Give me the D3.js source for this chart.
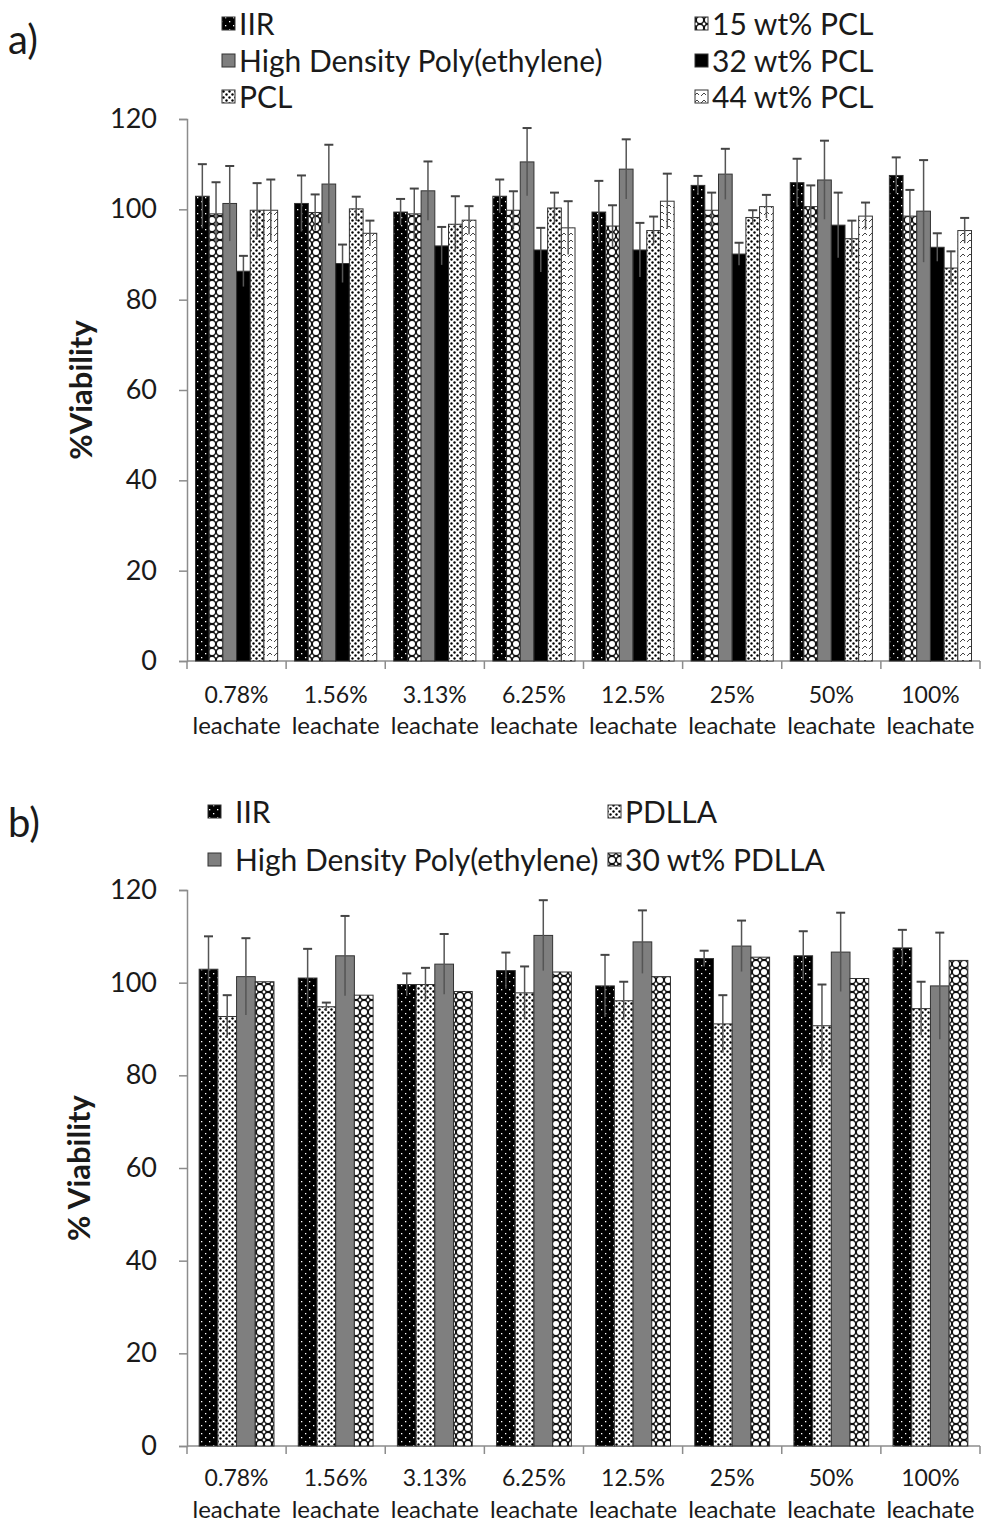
<!DOCTYPE html>
<html>
<head>
<meta charset="utf-8">
<script src="https://cdnjs.cloudflare.com/ajax/libs/d3/7.8.5/d3.min.js"></script>
<style>
  body { margin: 0; background: #fff; }
  svg text { font-family: Lato, "Open Sans", sans-serif; fill: #1a1a1a; }
</style>
</head>
<body>
<div id="chart"></div>
<script>
// categories (shared by both panels)
var groups = ["0.78%", "1.56%", "3.13%", "6.25%", "12.5%", "25%", "50%", "100%"];
var y_ticks = [0, 20, 40, 60, 80, 100, 120];

// panel a, series in bar order
var a_series = ["IIR", "15 wt% PCL", "High Density Poly(ethylene)", "32 wt% PCL", "PCL", "44 wt% PCL"];
var a_fill = ["iir", "xhatch", "hdpe", "black", "dots", "wave"];
var a_iir   = [102.9, 101.3, 99.4, 102.9, 99.4, 105.3, 105.9, 107.5];
var a_pcl15 = [99.0, 99.3, 99.0, 99.8, 96.3, 99.8, 100.6, 98.5];
var a_hdpe  = [101.3, 105.6, 104.1, 110.5, 108.9, 107.8, 106.5, 99.6];
var a_pcl32 = [86.3, 88.0, 91.9, 91.0, 91.0, 90.1, 96.5, 91.6];
var a_pcl   = [99.8, 100.1, 96.7, 100.3, 95.3, 98.2, 93.5, 87.0];
var a_pcl44 = [99.8, 94.7, 97.6, 95.9, 101.8, 100.6, 98.5, 95.3];
var a_iir_err   = [7.1, 6.2, 2.9, 3.7, 6.9, 2.1, 5.3, 4.0];
var a_pcl15_err = [7.0, 4.0, 5.6, 4.2, 4.6, 3.9, 4.7, 5.8];
var a_hdpe_err  = [8.3, 8.7, 6.5, 7.5, 6.6, 5.6, 8.7, 11.3];
var a_pcl32_err = [3.4, 4.2, 4.2, 4.9, 6.0, 2.5, 7.2, 3.1];
var a_pcl_err   = [6.0, 2.7, 6.2, 3.4, 3.1, 1.6, 4.0, 3.7];
var a_pcl44_err = [6.8, 2.8, 3.1, 5.9, 6.1, 2.6, 3.0, 2.8];

// panel b, series in bar order
var b_series = ["IIR", "PDLLA", "High Density Poly(ethylene)", "30 wt% PDLLA"];
var b_fill = ["iir", "dots", "hdpe", "xhatch"];
var b_iir    = [102.9, 101.0, 99.6, 102.6, 99.3, 105.2, 105.8, 107.5];
var b_pdlla  = [92.7, 94.8, 99.6, 97.8, 96.1, 91.1, 90.7, 94.4];
var b_hdpe   = [101.3, 105.8, 104.0, 110.2, 108.8, 107.9, 106.6, 99.3];
var b_pdlla30 = [100.2, 97.3, 98.1, 102.3, 101.3, 105.5, 100.9, 104.8];
var b_iir_err   = [7.1, 6.3, 2.4, 3.9, 6.7, 1.7, 5.3, 3.9];
var b_pdlla_err = [4.6, 0.9, 3.6, 5.7, 4.1, 6.2, 8.9, 5.8];
var b_hdpe_err  = [8.3, 8.6, 6.5, 7.6, 6.8, 5.5, 8.5, 11.5];
var b_pdlla30_err = [0, 0, 0, 0, 0, 0, 0, 0];

var svg = d3.select("#chart").append("svg")
    .attr("width", 985)
    .attr("height", 1523);

var defs = svg.append("defs");

// fill patterns, excel style
function make_patterns() {
    var p = defs.append("pattern").attr("id", "iir").attr("patternUnits", "userSpaceOnUse")
        .attr("width", 8).attr("height", 8);
    p.append("rect").attr("width", 8).attr("height", 8).attr("fill", "#000");
    p.append("rect").attr("x", 1).attr("y", 1).attr("width", 1.3).attr("height", 1.3).attr("fill", "#fff");
    p.append("rect").attr("x", 5).attr("y", 5).attr("width", 1.3).attr("height", 1.3).attr("fill", "#fff");

    p = defs.append("pattern").attr("id", "xhatch").attr("patternUnits", "userSpaceOnUse")
        .attr("width", 8).attr("height", 8);
    p.append("rect").attr("width", 8).attr("height", 8).attr("fill", "#111");
    p.append("circle").attr("cx", 4).attr("cy", 4).attr("r", 3).attr("fill", "#fff");
    p.append("circle").attr("cx", 0).attr("cy", 0).attr("r", 1.4).attr("fill", "#fff");
    p.append("circle").attr("cx", 8).attr("cy", 0).attr("r", 1.4).attr("fill", "#fff");
    p.append("circle").attr("cx", 0).attr("cy", 8).attr("r", 1.4).attr("fill", "#fff");
    p.append("circle").attr("cx", 8).attr("cy", 8).attr("r", 1.4).attr("fill", "#fff");

    p = defs.append("pattern").attr("id", "dots").attr("patternUnits", "userSpaceOnUse")
        .attr("width", 6).attr("height", 6);
    p.append("rect").attr("width", 6).attr("height", 6).attr("fill", "#fff");
    p.append("circle").attr("cx", 1.5).attr("cy", 1.5).attr("r", 1.2).attr("fill", "#000");
    p.append("circle").attr("cx", 4.5).attr("cy", 4.5).attr("r", 1.2).attr("fill", "#000");

    p = defs.append("pattern").attr("id", "wave").attr("patternUnits", "userSpaceOnUse")
        .attr("width", 7).attr("height", 7);
    p.append("rect").attr("width", 7).attr("height", 7).attr("fill", "#fff");
    p.append("path").attr("d", "M1,5 L4,2 L6,4").attr("stroke", "#444").attr("stroke-width", 1).attr("fill", "none");
}
make_patterns();

function fill_of(k) {
    if (k == "hdpe") return "#7f7f7f";
    if (k == "black") return "#000";
    return "url(#" + k + ")";
}

function draw_panel(opt) {
    var y = d3.scaleLinear().domain([0, 120]).range([opt.bottom, opt.top]);
    var x = d3.scaleBand().domain(groups).range([opt.left, opt.right]).padding(0);
    var xs = d3.scaleBand().domain(d3.range(opt.series.length))
        .range([0, x.bandwidth()]).paddingInner(0).paddingOuter(opt.gap);

    var g = svg.append("g");

    // y axis
    var yAxis = d3.axisLeft(y).tickValues(y_ticks).tickSize(8).tickPadding(22);
    var ya = g.append("g").attr("transform", "translate(" + opt.left + ",0)").call(yAxis);
    ya.select(".domain").attr("stroke", "#8c8c8c").attr("stroke-width", 1.5);
    ya.selectAll(".tick line").attr("stroke", "#8c8c8c").attr("stroke-width", 1.5);
    ya.selectAll(".tick text").style("font-size", "27px").style("font-family", "Lato").attr("fill", "#1a1a1a");

    // x axis line + group boundary ticks
    g.append("line").attr("x1", opt.left).attr("x2", opt.right)
        .attr("y1", y(0)).attr("y2", y(0)).attr("stroke", "#8c8c8c").attr("stroke-width", 1.5);
    g.selectAll(".xtick").data(groups.concat(["end"])).enter().append("line")
        .attr("x1", function (d, i) { return opt.left + i * x.step(); })
        .attr("x2", function (d, i) { return opt.left + i * x.step(); })
        .attr("y1", y(0)).attr("y2", y(0) + 8)
        .attr("stroke", "#8c8c8c").attr("stroke-width", 1.5);

    var lab = g.selectAll(".xlab").data(groups).enter().append("text")
        .attr("text-anchor", "middle")
        .attr("x", function (d) { return x(d) + x.bandwidth() / 2; });
    lab.append("tspan").attr("x", function (d) { return x(d) + x.bandwidth() / 2; })
        .style("font-size", "23px")
        .attr("y", y(0) + opt.lab1).text(function (d) { return d; });
    lab.append("tspan").attr("x", function (d) { return x(d) + x.bandwidth() / 2; })
        .style("font-size", "24px")
        .attr("y", y(0) + opt.lab2).text("leachate");

    // bars
    opt.values.forEach(function (vals, s) {
        var errs = opt.errors[s];
        var bg = g.append("g");
        bg.selectAll("rect").data(vals).enter().append("rect")
            .attr("x", function (d, i) { return x(groups[i]) + xs(s); })
            .attr("y", function (d) { return y(d); })
            .attr("width", xs.bandwidth())
            .attr("height", function (d) { return y(0) - y(d); })
            .attr("fill", fill_of(opt.fills[s]))
            .attr("stroke", "#333")
            .attr("stroke-width", 1);

        // error bars
        var eb = bg.selectAll(".err").data(vals).enter().append("g")
            .filter(function (d, i) { return errs[i] > 0; });
        eb.append("line")
            .attr("x1", function (d, i) { return x(groups[i]) + xs(s) + xs.bandwidth() / 2; })
            .attr("x2", function (d, i) { return x(groups[i]) + xs(s) + xs.bandwidth() / 2; })
            .attr("y1", function (d, i) { return y(d - errs[i]); })
            .attr("y2", function (d, i) { return y(d + errs[i]); })
            .attr("stroke", "#555").attr("stroke-width", 1.5);
        eb.append("line")
            .attr("x1", function (d, i) { return x(groups[i]) + xs(s) + xs.bandwidth() / 2 - 4.5; })
            .attr("x2", function (d, i) { return x(groups[i]) + xs(s) + xs.bandwidth() / 2 + 4.5; })
            .attr("y1", function (d, i) { return y(d + errs[i]); })
            .attr("y2", function (d, i) { return y(d + errs[i]); })
            .attr("stroke", "#444").attr("stroke-width", 2);
    });

    // y title
    g.append("text")
        .attr("transform", "translate(" + opt.titleX + "," + ((opt.top + opt.bottom) / 2) + ") rotate(-90)")
        .attr("text-anchor", "middle")
        .style("font-size", "31px").style("font-weight", "bold")
        .text(opt.title);

    // panel letter
    g.append("text").attr("x", 8).attr("y", opt.letterY)
        .style("font-size", "40px")
        .text(opt.letter);

    // legend (row major, 2 columns)
    opt.series.forEach(function (name, s) {
        var col = s % 2, row = Math.floor(s / 2);
        var lx = opt.legX[col], ly = opt.legY[row];
        g.append("rect").attr("x", lx).attr("y", ly - 7).attr("width", 13).attr("height", 13)
            .attr("fill", fill_of(opt.fills[s])).attr("stroke", "#333").attr("stroke-width", 1);
        g.append("text").attr("x", lx + opt.legGap[col]).attr("y", ly).attr("dy", "0.36em")
            .style("font-size", opt.legFont).text(name);
    });
}

draw_panel({
    series: a_series, fills: a_fill,
    values: [a_iir, a_pcl15, a_hdpe, a_pcl32, a_pcl, a_pcl44],
    errors: [a_iir_err, a_pcl15_err, a_hdpe_err, a_pcl32_err, a_pcl_err, a_pcl44_err],
    left: 187, right: 980, top: 119, bottom: 661, gap: 0.62,
    lab1: 42, lab2: 73, titleX: 92, title: "%Viability",
    letter: "a)", letterY: 54,
    legX: [222, 695], legGap: [17, 17], legY: [24, 61, 97], legFont: "30px"
});

draw_panel({
    series: b_series, fills: b_fill,
    values: [b_iir, b_pdlla, b_hdpe, b_pdlla30],
    errors: [b_iir_err, b_pdlla_err, b_hdpe_err, b_pdlla30_err],
    left: 187, right: 980, top: 890, bottom: 1446, gap: 0.65,
    lab1: 40, lab2: 72, titleX: 90, title: "% Viability",
    letter: "b)", letterY: 837,
    legX: [208, 608], legGap: [27, 17], legY: [812, 860], legFont: "30px"
});
</script>
</body>
</html>
